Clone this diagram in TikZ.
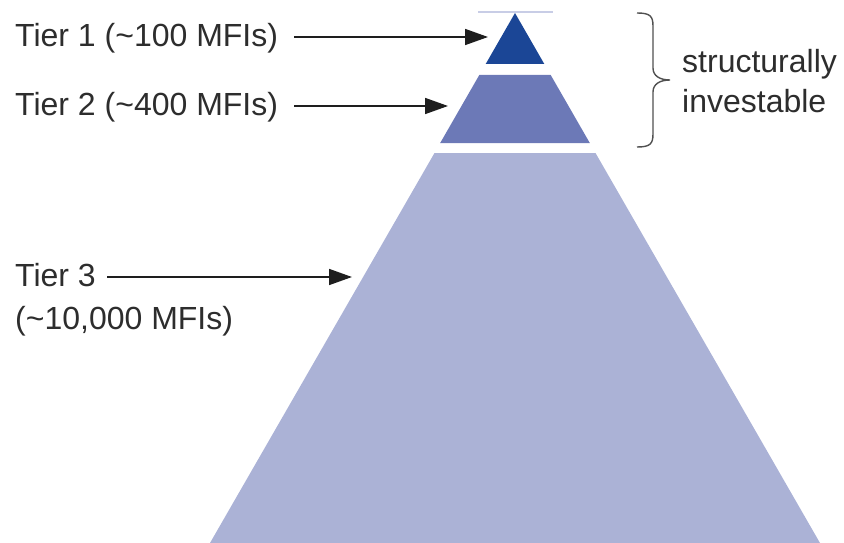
\documentclass[tikz,border=0pt]{standalone}
\usepackage{fontspec}
\setmainfont{Liberation Sans}
\usetikzlibrary{arrows.meta}
\definecolor{tierone}{RGB}{27,70,150}
\definecolor{tiertwo}{RGB}{108,121,183}
\definecolor{tierthree}{RGB}{171,178,214}
\definecolor{topline}{RGB}{200,205,230}
\definecolor{txt}{RGB}{45,45,45}
\definecolor{arrowc}{RGB}{30,30,30}
\definecolor{bracec}{RGB}{80,80,80}
\newcommand{\tld}{{\char126\relax}}
\tikzset{
  lbl/.style={anchor=base west, inner sep=0pt, text=txt, font=\fontsize{32}{38}\selectfont},
  arr/.style={draw=arrowc, line width=1.7pt, -{Triangle[length=23pt,width=16pt]}},
  bracestyle/.style={draw=bracec, line width=1.4pt},
}
\begin{document}
\begin{tikzpicture}[x=1pt,y=-1pt]
\useasboundingbox (0,0) rectangle (844,543);
% pyramid tiers
\fill[tierone] (515,13) -- (544.3,64) -- (485.7,64) -- cycle;
\fill[tiertwo] (479.3,75) -- (550.7,75) -- (589.8,143) -- (440.2,143) -- cycle;
\fill[tierthree] (434.5,153) -- (595.5,153) -- (820,543) -- (210,543) -- cycle;
\draw[topline, line width=1.3pt] (478,12) -- (553,12);
% tip coordinates
\coordinate (tip1) at (488,37);
\coordinate (tip2) at (448,106);
\coordinate (tip3) at (352,277);
% labels
\node[lbl] (t1) at (15,47) {Tier 1 (\tld100 MFIs)};
\node[lbl] (t2) at (15,116) {Tier 2 (\tld400 MFIs)};
\node[lbl] (t3) at (15,286) {Tier 3};
\node[lbl] (t3b) at (15,329) {(\tld10,000 MFIs)};
\node[lbl] (s1) at (682,73) {structurally};
\node[lbl] (s2) at (682,112) {investable};
% arrows
\draw[arr] (t1.east |- tip1) ++(16,0) -- (tip1);
\draw[arr] (t2.east |- tip2) ++(16,0) -- (tip2);
\draw[arr] (t3.east |- tip3) ++(11,0) -- (tip3);
% brace
\coordinate (btop) at (637,13);
\coordinate (bbot) at (637,147);
\draw[bracestyle] (btop) .. controls (650,13) and (653,16) .. (653,26) -- (653,68)
  .. controls (653,76) and (660,80) .. (670,80)
  .. controls (660,80) and (653,84) .. (653,92) -- (653,134)
  .. controls (653,144) and (650,147) .. (bbot);
\end{tikzpicture}
\end{document}
